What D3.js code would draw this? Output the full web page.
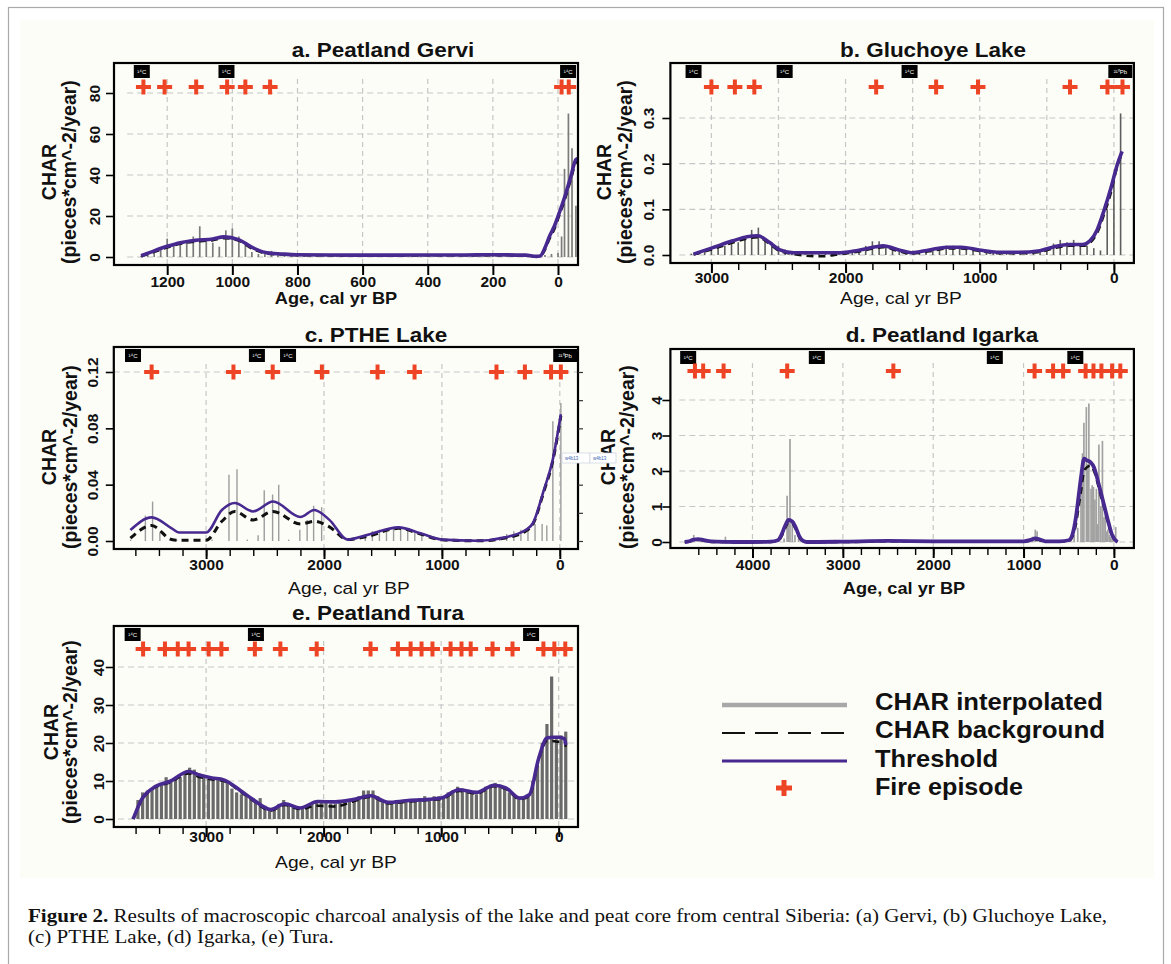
<!DOCTYPE html>
<html>
<head>
<meta charset="utf-8">
<script src="https://cdn.jsdelivr.net/npm/d3@7"></script>
<style>
  html, body { margin: 0; padding: 0; background: #fff; }
  svg { display: block; }
</style>
</head>
<body>
<svg id="fig" width="1171" height="964"></svg>
<script>
// ---- a. Peatland Gervi ----
const gerviCharAge = d3.range(1280, -1, -20).concat([-11, -20, -32, -43, -55]);
const gerviChar = [0.5, 1.5, 2.5, 4, 9, 6, 7, 7.5, 10, 15, 8, 7, 5, 13, 14, 10, 6, 2.5, 1.5, 3,
  3, 2.5, 1.2, 1, 1.2, 1, 0.8, 1, 0.9, 0.8, 1, 1, 0.8, 0.9, 1, 0.8, 0.9, 1, 0.8, 0.9,
  1, 0.8, 0.9, 1, 0.8, 1, 1.1, 1, 0.9, 1, 1, 0.9, 1, 1, 1.2, 1, 0.9, 1, 0.8, 1,
  0.8, 0.6, 1, 1.5, 2, 10, 43, 70, 53, 25];
const gerviThrAge = [1280, 1240, 1200, 1160, 1115, 1060, 1026, 981, 936, 892, 850, 802, 700, 600, 500,
  400, 300, 200, 100, 66, 55, 40, 27, 10, 0, -22, -39, -55, -62];
const gerviThr = [0.6, 3, 5.2, 7, 8.1, 8.8, 9.8, 8.5, 4.4, 2, 1.5, 1.1, 1, 0.9, 0.9,
  1, 1, 1.1, 0.9, 0.3, 0.5, 4.5, 9.8, 15.5, 19.8, 30, 39, 47.5, 48];
const gerviBg = [0.3, 2.5, 4.6, 6.4, 7.5, 8.2, 9.2, 8, 3.8, 1.6, 1.2, 0.9, 0.8, 0.7, 0.7,
  0.8, 0.8, 0.9, 0.7, 0.2, 0.3, 3.5, 8.5, 14, 18.5, 28.5, 37.5, 46, 47];
const gerviFire = [1273, 1208, 1111, 1016, 960, 884, -11, -33];
const gerviDates = [1278, 1018, -31];
const gerviDateLab = ["¹⁴C", "¹⁴C", "¹⁴C"];

// ---- b. Gluchoye Lake ----
const gluchCharAge = d3.range(3150, -51, -50);
const gluchChar = [0.003, 0.006, 0.01, 0.012, 0.016, 0.02, 0.024, 0.028, 0.04, 0.055, 0.06, 0.035, 0.028, 0.02, 0.012, 0.006, 0.003,
  0.004, 0.004, 0.003, 0.004, 0.004, 0.005, 0.006, 0.008, 0.012, 0.02, 0.03, 0.03, 0.022, 0.015, 0.01, 0.006, 0.004,
  0.008, 0.012, 0.015, 0.018, 0.02, 0.02, 0.018, 0.016, 0.012, 0.01, 0.008, 0.006, 0.005, 0.006, 0.006, 0.008, 0.008,
  0.01, 0.012, 0.015, 0.025, 0.033, 0.028, 0.033, 0.025, 0.02, 0.015, 0.01, 0.1, 0.16, 0.31];
const gluchThrAge = [3133, 3000, 2840, 2734, 2654, 2574, 2494, 2388, 2175, 2040, 1909, 1776, 1722, 1589, 1509, 1376,
  1243, 1137, 1004, 870, 711, 551, 445, 338, 232, 178, 125, 72, 19, -21, -61];
const gluchThr = [0.002, 0.015, 0.031, 0.04, 0.042, 0.029, 0.012, 0.005, 0.005, 0.005, 0.01, 0.018, 0.02, 0.01, 0.005, 0.011,
  0.017, 0.017, 0.011, 0.006, 0.006, 0.0095, 0.018, 0.023, 0.023, 0.031, 0.055, 0.099, 0.15, 0.194, 0.227];
const gluchBg = [0.001, 0.012, 0.027, 0.036, 0.039, 0.026, 0.009, 0.002, -0.003, 0.002, 0.007, 0.015, 0.017, 0.007, 0.003, 0.008,
  0.014, 0.014, 0.009, 0.004, 0.004, 0.007, 0.015, 0.02, 0.02, 0.027, 0.048, 0.09, 0.14, 0.19, 0.222];
const gluchFire = [3000, 2825, 2680, 1772, 1325, 1013, 327, 48, -64];
const gluchDates = [3133, 2454, 1523, -48];
const gluchDateLab = ["¹⁴C", "¹⁴C", "¹⁴C", "²¹⁰Pb"];

// ---- c. PTHE Lake ----
const ptheCharAge = [3640, 3515, 3454, 3392, 3250, 3100, 2950, 2806, 2738, 2650, 2559, 2507, 2436, 2384, 2300, 2205, 2143,
  2088, 2020, 1650, 1590, 1530, 1470, 1410, 1350, 1290, 1230, 1170, 900, 750, 570, 510, 450, 390, 330, 270, 210, 150, 110, 59, -9];
const ptheChar = [0.001, 0.018, 0.028, 0.006, 0.001, 0.001, 0.001, 0.047, 0.051, 0.001, 0.004, 0.036, 0.033, 0.04, 0.001, 0.008, 0.015,
  0.025, 0.024, 0.004, 0.007, 0.008, 0.009, 0.009, 0.009, 0.008, 0.006, 0.004, 0.001, 0.001, 0.002, 0.003, 0.005, 0.007, 0.008, 0.01, 0.012, 0.012, 0.011, 0.085, 0.098];
const ptheThrAge = [3642, 3462, 3292, 3230, 3000, 2866, 2757, 2602, 2432, 2200, 2083, 1954, 1800, 1645, 1367, 1182,
  1000, 691, 475, 290, 228, 136, 59, -9];
const ptheThr = [0.0078, 0.0168, 0.009, 0.006, 0.006, 0.022, 0.027, 0.021, 0.028, 0.017, 0.022, 0.015, 0.001, 0.004, 0.0097, 0.0055,
  0.001, 0.0002, 0.0024, 0.0078, 0.0126, 0.036, 0.058, 0.09];
const ptheBg = [0.002, 0.011, 0.001, 0.0005, 0.0005, 0.014, 0.021, 0.015, 0.021, 0.012, 0.014, 0.01, 0.001, 0.003, 0.009, 0.005,
  0.0008, 0.0001, 0.002, 0.007, 0.012, 0.035, 0.057, 0.089];
const ptheFire = [3462, 2768, 2435, 2018, 1546, 1232, 537, 296, 74, -9];
const ptheDates = [3620, 2569, 2305, -46];
const ptheDateLab = ["¹⁴C", "¹⁴C", "¹⁴C", "²¹⁰Pb"];

// ---- d. Peatland Igarka ----
const igarCharAge = [4700, 4650, 4600, 4550, 4300, 3650, 3617, 3600, 3585, 3560, 3530, 3490, 2400, 900, 870, 850, 820,
  480, 440, 400, 364, 348, 332, 305, 290, 277, 253, 240, 226, 210, 194, 180, 166, 145, 127, 110, 95, 80, 67, 50, 36, 20, 10, -20];
const igarChar = [0.05, 0.2, 0.1, 0.05, 0.15, 0.1, 1.3, 0.5, 2.9, 0.6, 0.2, 0.1, 0.05, 0.15, 0.35, 0.3, 0.1,
  0.05, 0.2, 0.4, 1.65, 2.5, 3.36, 3.8, 2.2, 3.9, 1.5, 1.6, 1.55, 1.2, 1.5, 0.5, 2.75, 1.0, 2.85, 0.7, 0.9, 0.3, 0.35, 0.2, 0.15, 0.15, 0.1, 0.42];
const igarThrAge = [4750, 4700, 4650, 4600, 4550, 4500, 4400, 4200, 4000, 3800, 3720, 3680, 3640, 3600, 3560, 3520, 3480, 3440, 3400,
  3000, 2500, 2000, 1500, 1000, 920, 870, 820, 760, 600, 500, 460, 420, 390, 360, 330, 300, 260, 220, 180, 140, 100, 60, 20, -40];
const igarThr = [0, 0.02, 0.07, 0.08, 0.06, 0.03, 0.01, 0, 0, 0.01, 0.05, 0.2, 0.45, 0.62, 0.58, 0.4, 0.15, 0.03, 0,
  0.01, 0.03, 0.02, 0.02, 0.02, 0.06, 0.1, 0.07, 0.02, 0.02, 0.05, 0.2, 0.7, 1.3, 1.9, 2.35, 2.3, 2.25, 2.1, 1.75, 1.35, 0.95, 0.55, 0.2, 0];
const igarBg = [0, 0.01, 0.05, 0.06, 0.05, 0.02, 0, 0, 0, 0, 0.03, 0.15, 0.38, 0.55, 0.52, 0.35, 0.12, 0.02, 0,
  0, 0.02, 0.01, 0.01, 0.01, 0.04, 0.08, 0.05, 0.01, 0.01, 0.03, 0.15, 0.5, 1.0, 1.5, 2.0, 2.1, 2.15, 2.0, 1.65, 1.25, 0.9, 0.5, 0.18, 0];
const igarFire = [4637, 4546, 4320, 3616, 2441, 878, 673, 562, 313, 226, 138, 20, -71];
const igarDates = [4712, 3288, 1318, 427];
const igarDateLab = ["¹⁴C", "¹⁴C", "¹⁴C", "¹⁴C"];

// ---- e. Peatland Tura ----
const turaCharAge = d3.range(3620, -61, -40);
const turaChar = [0.5, 5, 7, 7.5, 8, 8.5, 9, 11, 10, 10.5, 11, 12, 13.5, 13, 12, 11, 10.5, 10, 10.5, 10.5,
  9.5, 8, 7, 6.5, 6, 5.5, 5, 5.5, 3.5, 2.5, 3, 4, 5, 4, 3.5, 3, 3, 3.5, 4, 4.5,
  5, 4.5, 4, 4, 4.5, 5, 5, 5.5, 6, 7.5, 7.5, 7.5, 6, 5, 4.5, 4.5, 5, 5, 5, 5,
  5, 5.5, 6, 5.5, 6, 6, 6, 7, 7.5, 8.5, 8, 7.5, 7, 6.5, 7, 8.5, 9, 9.5, 9, 8,
  7, 6, 5.5, 5, 6, 10, 14, 20, 25, 37.5, 21, 22, 23];
const turaThrAge = [3620, 3550, 3450, 3300, 3150, 3050, 2950, 2850, 2700, 2600, 2450, 2330, 2200, 2050, 1900, 1750, 1600,
  1450, 1300, 1100, 1000, 850, 700, 550, 450, 330, 250, 170, 100, 50, 0, -50, -60];
const turaThr = [0, 5.1, 8.2, 10, 12.5, 11.5, 10.8, 10.3, 7.3, 5.1, 2.5, 4, 2.9, 4.6, 4.5, 5.1, 6.1,
  4.4, 4.8, 5.2, 5.5, 7.7, 7, 8.9, 8.2, 5.5, 6.4, 16, 21.3, 21.5, 21.5, 21.1, 19.5];
const turaBg = [0, 4.8, 8, 9.7, 12, 11, 10.4, 10, 7, 4.8, 2.2, 3.7, 2.6, 3.5, 3.3, 4.6, 5.8,
  4.1, 4.5, 5, 5.2, 7.4, 6.7, 8.6, 7.9, 5.2, 6, 15.5, 20.5, 20.5, 20.3, 20.5, 19];
const turaFire = [3536, 3350, 3241, 3149, 2978, 2870, 2585, 2368, 2059, 1601, 1368, 1260, 1167, 1074, 920, 827, 749, 563, 393, 130, 37, -56];
const turaDates = [3625, 2576, 235];
const turaDateLab = ["¹⁴C", "¹⁴C", "¹⁴C"];

const legendLabels = ["CHAR interpolated", "CHAR background", "Threshold", "Fire episode"];
const captionBold = "Figure 2.";
const captionLine1 = " Results of macroscopic charcoal analysis of the lake and peat core from central Siberia: (a) Gervi, (b) Gluchoye Lake,";
const captionLine2 = "(c) PTHE Lake, (d) Igarka, (e) Tura.";

// ---- styling ----
const FONT = '"Liberation Sans", Arial, Helvetica, sans-serif';
const SERIF = '"Liberation Serif", "Times New Roman", serif';
const PURPLE = "#47298f";
const RED = "#ee4426";
const GRID = "#c6c6c6";

const svg = d3.select("#fig").attr("font-family", FONT);

svg.append("rect").attr("width", 1171).attr("height", 964).attr("fill", "#fff");
svg.append("rect").attr("x", 20).attr("y", 20).attr("width", 1134).attr("height", 858).attr("fill", "#fdfdf8");
svg.append("rect").attr("x", 8.5).attr("y", 7.5).attr("width", 1155).attr("height", 980)
  .attr("fill", "none").attr("stroke", "#a9a9a9").attr("stroke-width", 1.2);

// stretch a text horizontally (source figure is slightly widened)
function stretch(sel, k) {
  sel.each(function () {
    const w = this.getComputedTextLength();
    d3.select(this).attr("textLength", w * k).attr("lengthAdjust", "spacingAndGlyphs");
  });
}

const panels = [
  {
    title: "a. Peatland Gervi", titleX: 383, titleY: 50,
    box: [114, 578, 63, 265], xA: [1200, 0], xP: [167.2, 558.0], yA: [0, 80], yP: [257, 93],
    fireY: 87, xMajor: [1200, 1000, 800, 600, 400, 200, 0], xMinor: [],
    vGrid: [1200, 1000, 800, 600, 400, 200, 0], hGrid: [0, 20, 40, 60, 80], hFrom: 1323,
    yTicks: [0, 20, 40, 60, 80], yFmt: d3.format("d"),
    charAge: gerviCharAge, char: gerviChar, thrAge: gerviThrAge, thr: gerviThr, bg: gerviBg,
    fire: gerviFire, dates: gerviDates, dateLab: gerviDateLab,
    barColor: "#7b7b7b", barW: 1.7, thrW: 3.6, bgW: 2.5,
    lab1X: 49, lab2X: 69, labY: 172, yTickX: 95, xTickY: 282, xLabX: 336, xLabY: 298, xLabBold: true
  },
  {
    title: "b. Gluchoye Lake", titleX: 933, titleY: 50,
    box: [670.4, 1133.9, 63, 263], xA: [3000, 0], xP: [711.4, 1113.9], yA: [0, 0.3], yP: [255, 118],
    fireY: 87, xMajor: [3000, 2000, 1000, 0], xMinor: d3.range(3000, -1, -200),
    vGrid: [3000, 2500, 2000, 1500, 1000, 500, 0], hGrid: [0, 0.1, 0.2, 0.3], hFrom: 3239,
    yTicks: [0, 0.1, 0.2, 0.3], yFmt: d3.format(".1f"),
    charAge: gluchCharAge, char: gluchChar, thrAge: gluchThrAge, thr: gluchThr, bg: gluchBg,
    fire: gluchFire, dates: gluchDates, dateLab: gluchDateLab,
    barColor: "#5e5e5e", barW: 1.6, thrW: 3.6, bgW: 2.5,
    lab1X: 604, lab2X: 625, labY: 172, yTickX: 649, xTickY: 278, xLabX: 901, xLabY: 298, xLabBold: false
  },
  {
    title: "c. PTHE Lake", titleX: 376, titleY: 335,
    box: [113.8, 578, 347, 549], xA: [3000, 0], xP: [206.1, 559.8], yA: [0, 0.12], yP: [541, 372],
    fireY: 372, xMajor: [3000, 2000, 1000, 0], xMinor: d3.range(3600, -1, -200),
    vGrid: [3000, 2000, 1000, 0], hGrid: [0.12], hFrom: null,
    yTicks: [0, 0.04, 0.08, 0.12], yFmt: d3.format(".2f"), rightTicks: [0, 0.02, 0.04, 0.06, 0.08, 0.1, 0.12],
    charAge: ptheCharAge, char: ptheChar, thrAge: ptheThrAge, thr: ptheThr, bg: ptheBg,
    fire: ptheFire, dates: ptheDates, dateLab: ptheDateLab,
    barColor: "#9c9c9c", barW: 1.4, thrW: 2.6, bgW: 3,
    lab1X: 49, lab2X: 70, labY: 457, yTickX: 93, xTickY: 565, xLabX: 349, xLabY: 588, xLabBold: false
  },
  {
    title: "d. Peatland Igarka", titleX: 942, titleY: 335,
    box: [670.4, 1133.9, 349, 548], xA: [4000, 0], xP: [752.5, 1113.9], yA: [0, 4], yP: [542, 400],
    fireY: 371, xMajor: [4000, 3000, 2000, 1000, 0], xMinor: d3.range(4600, -1, -200),
    vGrid: [4000, 3000, 2000, 1000, 0], hGrid: [0, 1, 2, 3, 4], hFrom: 4810,
    yTicks: [0, 1, 2, 3, 4], yFmt: d3.format("d"),
    charAge: igarCharAge, char: igarChar, thrAge: igarThrAge, thr: igarThr, bg: igarBg,
    fire: igarFire, dates: igarDates, dateLab: igarDateLab,
    barColor: "#a2a2a2", barW: 1.7, thrW: 3.8, bgW: 2.5,
    lab1X: 608, lab2X: 627, labY: 457, yTickX: 657, xTickY: 565, xLabX: 904, xLabY: 588, xLabBold: true
  },
  {
    title: "e. Peatland Tura", titleX: 378, titleY: 613,
    box: [113.8, 578, 626, 827], xA: [3000, 0], xP: [206.1, 558.7], yA: [0, 40], yP: [819, 667],
    fireY: 649, xMajor: [3000, 2000, 1000, 0], xMinor: d3.range(3600, -1, -200),
    vGrid: [3000, 2000, 1000, 0], hGrid: [0, 10, 20, 30, 40], hFrom: 3749,
    yTicks: [0, 10, 20, 30, 40], yFmt: d3.format("d"),
    charAge: turaCharAge, char: turaChar, thrAge: turaThrAge, thr: turaThr, bg: turaBg,
    fire: turaFire, dates: turaDates, dateLab: turaDateLab,
    barColor: "#6a6a6a", barW: 3.2, thrW: 3.6, bgW: 2.5,
    lab1X: 51, lab2X: 70, labY: 732, yTickX: 99, xTickY: 837, xLabX: 336, xLabY: 862, xLabBold: false
  }
];

function cross(g, cx, cy, size, w) {
  g.append("line").attr("x1", cx - size / 2).attr("x2", cx + size / 2).attr("y1", cy).attr("y2", cy)
    .attr("stroke", RED).attr("stroke-width", w);
  g.append("line").attr("x1", cx).attr("x2", cx).attr("y1", cy - size / 2).attr("y2", cy + size / 2)
    .attr("stroke", RED).attr("stroke-width", w);
}

function drawPanel(p) {
  const [x0, x1, y0, y1] = p.box;
  const x = d3.scaleLinear().domain(p.xA).range(p.xP);
  const y = d3.scaleLinear().domain(p.yA).range(p.yP);
  const g = svg.append("g");

  // grid
  g.selectAll(null).data(p.vGrid).join("line")
    .attr("x1", d => x(d)).attr("x2", d => x(d))
    .attr("y1", p.fireY - 8).attr("y2", y1 - 1)
    .attr("stroke", GRID).attr("stroke-width", 1.2).attr("stroke-dasharray", "5,4");
  g.selectAll(null).data(p.hGrid).join("line")
    .attr("x1", p.hFrom == null ? x0 : x(p.hFrom)).attr("x2", x1)
    .attr("y1", d => y(d)).attr("y2", d => y(d))
    .attr("stroke", GRID).attr("stroke-width", 1.2).attr("stroke-dasharray", "6,4");

  // CHAR interpolated bars
  g.selectAll(null).data(d3.zip(p.charAge, p.char)).join("line")
    .attr("x1", d => x(d[0])).attr("x2", d => x(d[0]))
    .attr("y1", y(0)).attr("y2", d => y(d[1]))
    .attr("stroke", p.barColor).attr("stroke-width", p.barW);

  const line = d3.line().x(d => x(d[0])).y(d => y(d[1])).curve(d3.curveMonotoneX);
  g.append("path").datum(d3.zip(p.thrAge, p.bg)).attr("d", line)
    .attr("fill", "none").attr("stroke", "#111").attr("stroke-width", p.bgW)
    .attr("stroke-dasharray", "7,5");
  g.append("path").datum(d3.zip(p.thrAge, p.thr)).attr("d", line)
    .attr("fill", "none").attr("stroke", PURPLE).attr("stroke-width", p.thrW)
    .attr("stroke-linejoin", "round");

  // frame
  g.append("rect").attr("x", x0).attr("y", y0).attr("width", x1 - x0).attr("height", y1 - y0)
    .attr("fill", "none").attr("stroke", "#000").attr("stroke-width", 2.2);

  // dating tags
  const tags = g.selectAll(null).data(d3.zip(p.dates, p.dateLab)).join("g")
    .attr("transform", d => `translate(${x(d[0])},${y0 + 2})`);
  tags.append("rect")
    .attr("x", d => d[1].length > 3 ? -12 : -8).attr("y", 0)
    .attr("width", d => d[1].length > 3 ? 24 : 16).attr("height", 13).attr("fill", "#000");
  tags.append("text").attr("x", 0).attr("y", 7).attr("dy", "0.35em").attr("text-anchor", "middle")
    .attr("fill", "#fff").attr("font-size", 6).text(d => d[1]);

  // fire episodes
  const fg = g.append("g");
  p.fire.forEach(a => cross(fg, x(a), p.fireY, 15, 4));

  // x axis
  if (p.xMinor.length) {
    const mn = g.append("g").attr("transform", `translate(0,${y1})`)
      .call(d3.axisBottom(x).tickValues(p.xMinor).tickSize(7).tickFormat(""));
    mn.select(".domain").remove();
    mn.selectAll("line").attr("stroke", "#000").attr("stroke-width", 1.4);
  }
  const mj = g.append("g").attr("transform", `translate(0,${y1})`)
    .call(d3.axisBottom(x).tickValues(p.xMajor).tickSize(10).tickFormat(d3.format("d")));
  mj.select(".domain").remove();
  mj.attr("font-family", FONT).attr("font-size", 15.5);
  mj.selectAll("line").attr("stroke", "#000").attr("stroke-width", 2);
  mj.selectAll("text").attr("y", p.xTickY - y1).attr("dy", "0.35em")
    .attr("font-weight", "bold").attr("fill", "#111");

  // y axis
  const ya = g.append("g").attr("transform", `translate(${x0},0)`)
    .call(d3.axisLeft(y).tickValues(p.yTicks).tickSize(8).tickFormat(p.yFmt));
  ya.select(".domain").remove();
  ya.attr("font-family", FONT).attr("font-size", 15.5);
  ya.selectAll("line").attr("stroke", "#000").attr("stroke-width", 1.6);
  ya.selectAll("text").attr("x", null).attr("dy", "0.35em").attr("text-anchor", "middle")
    .attr("font-weight", "bold").attr("fill", "#111")
    .attr("transform", `translate(${p.yTickX - x0},0) rotate(-90)`);

  if (p.rightTicks) {
    const ra = g.append("g").attr("transform", `translate(${x1},0)`)
      .call(d3.axisRight(y).tickValues(p.rightTicks).tickSize(5).tickFormat(""));
    ra.select(".domain").remove();
    ra.selectAll("line").attr("stroke", "#333").attr("stroke-width", 1.2);
  }

  // title
  g.append("text").attr("x", p.titleX).attr("y", p.titleY).attr("dy", "0.35em")
    .attr("text-anchor", "middle").attr("font-size", 21).attr("font-weight", "bold")
    .attr("fill", "#111").text(p.title).call(stretch, 1.07);

  // axis titles
  g.append("text").attr("transform", `translate(${p.lab1X},${p.labY}) rotate(-90)`)
    .attr("dy", "0.35em").attr("text-anchor", "middle").attr("font-size", 19.5)
    .attr("font-weight", "bold").attr("fill", "#111").text("CHAR");
  g.append("text").attr("transform", `translate(${p.lab2X},${p.labY}) rotate(-90)`)
    .attr("dy", "0.35em").attr("text-anchor", "middle").attr("font-size", 19.5)
    .attr("font-weight", "bold").attr("fill", "#111").text("(pieces*cm^-2/year)");
  const xl = g.append("text").attr("x", p.xLabX).attr("y", p.xLabY).attr("dy", "0.35em")
    .attr("text-anchor", "middle").attr("font-size", 17)
    .attr("font-weight", p.xLabBold ? "bold" : "normal").attr("fill", "#111")
    .text("Age, cal yr BP");
  xl.call(stretch, p.xLabBold ? 1.07 : 1.13);
}

panels.forEach(drawPanel);

// small note boxes left over in the source figure
[[562, 453, 28, 10], [590, 453, 26, 10]].forEach(([bx, by, bw, bh]) => {
  svg.append("rect").attr("x", bx).attr("y", by).attr("width", bw).attr("height", bh)
    .attr("fill", "#fff").attr("stroke", "#cfd6e2").attr("stroke-width", 0.8);
  svg.append("text").attr("x", bx + 3).attr("y", by + bh / 2).attr("dy", "0.35em")
    .attr("font-size", 4.5).attr("fill", "#3a5fb0").text("w4b13");
});

// legend
const lg = svg.append("g");
const legY = [705, 733, 761, 788];
lg.append("line").attr("x1", 722).attr("x2", 847).attr("y1", legY[0]).attr("y2", legY[0])
  .attr("stroke", "#a8a8a8").attr("stroke-width", 4.5);
lg.append("line").attr("x1", 722).attr("x2", 847).attr("y1", legY[1]).attr("y2", legY[1])
  .attr("stroke", "#111").attr("stroke-width", 2.2).attr("stroke-dasharray", "23,10");
lg.append("line").attr("x1", 722).attr("x2", 847).attr("y1", legY[2]).attr("y2", legY[2])
  .attr("stroke", PURPLE).attr("stroke-width", 3);
cross(lg, 784, legY[3], 16, 5);
const legW = [228, 230, 123, 148];
lg.selectAll(null).data(legendLabels).join("text")
  .attr("x", 875).attr("y", (d, i) => [702, 730, 759, 787][i]).attr("dy", "0.35em")
  .attr("font-size", 24).attr("font-weight", "bold").attr("fill", "#111")
  .attr("textLength", (d, i) => legW[i]).attr("lengthAdjust", "spacingAndGlyphs")
  .text(d => d);

// caption
const cap1 = svg.append("text").attr("x", 28).attr("y", 922)
  .attr("font-family", SERIF).attr("font-size", 18.5).attr("fill", "#111");
cap1.append("tspan").attr("font-weight", "bold").text(captionBold);
cap1.append("tspan").text(captionLine1);
const cap2 = svg.append("text").attr("x", 28).attr("y", 943)
  .attr("font-family", SERIF).attr("font-size", 18.5).attr("fill", "#111").text(captionLine2);
const k = 1079 / cap1.node().getComputedTextLength();
cap1.attr("textLength", 1079).attr("lengthAdjust", "spacingAndGlyphs");
cap2.attr("textLength", cap2.node().getComputedTextLength() * k).attr("lengthAdjust", "spacingAndGlyphs");
</script>
</body>
</html>
